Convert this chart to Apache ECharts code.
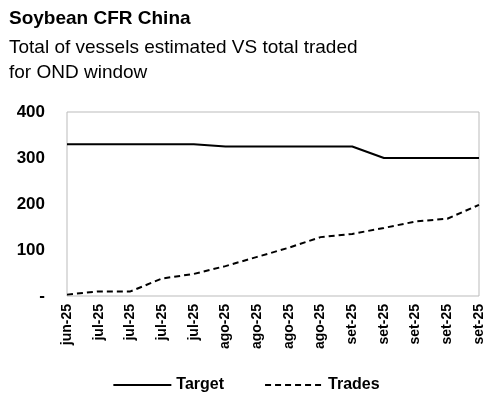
<!DOCTYPE html><html><head><meta charset="utf-8"><script src="https://cdn.jsdelivr.net/npm/echarts@6/dist/echarts.min.js"></script></head><body style="margin:0"><div id="c" style="width:492px;height:416px"></div><script>
const categories=['jun-25','jul-25','jul-25','jul-25','jul-25','ago-25','ago-25','ago-25','ago-25','set-25','set-25','set-25','set-25','set-25'];
const target=[330,330,330,330,330,325,325,325,325,325,300,300,300,300];
const trades=[3,10,10,38,48,65,85,105,128,135,148,162,168,198];
const F='Liberation Sans, Arial, sans-serif';
const ch=echarts.init(document.getElementById('c'));
ch.setOption({animation:false,
title:[{text:'Soybean CFR China',left:4,top:4,textStyle:{fontFamily:F,fontSize:19,fontWeight:'bold',color:'#000'}},
{text:'Total of vessels estimated VS total traded\nfor OND window',left:4,top:30,textStyle:{fontFamily:F,fontSize:19,fontWeight:'normal',color:'#000',lineHeight:25}}],
grid:{left:67,right:13,top:112,bottom:120,show:true,borderColor:'#bbb',borderWidth:1},
legend:{orient:'horizontal',top:372,left:'center',itemWidth:58,itemHeight:10,itemGap:40,itemStyle:{opacity:0},textStyle:{fontFamily:F,fontSize:16,fontWeight:'bold',color:'#000'},
data:['Target','Trades']},
xAxis:{type:'category',data:categories,boundaryGap:false,axisLine:{show:false},axisTick:{show:false},
axisLabel:{rotate:90,interval:0,fontFamily:F,fontSize:14,fontWeight:'bold',color:'#000',margin:8}},
yAxis:{type:'value',min:0,max:400,interval:100,splitLine:{show:false},axisLine:{show:false},axisTick:{show:false},
axisLabel:{fontFamily:F,fontSize:17,fontWeight:'bold',color:'#000',margin:22,formatter:v=>v===0?'-':String(v)}},
series:[{name:'Target',type:'line',data:target,symbol:'none',lineStyle:{color:'#000',width:2,type:'solid'},itemStyle:{color:'#000'}},
{name:'Trades',type:'line',data:trades,symbol:'none',lineStyle:{color:'#000',width:2,type:[6,4]},itemStyle:{color:'#000'}}]});
</script></body></html>
